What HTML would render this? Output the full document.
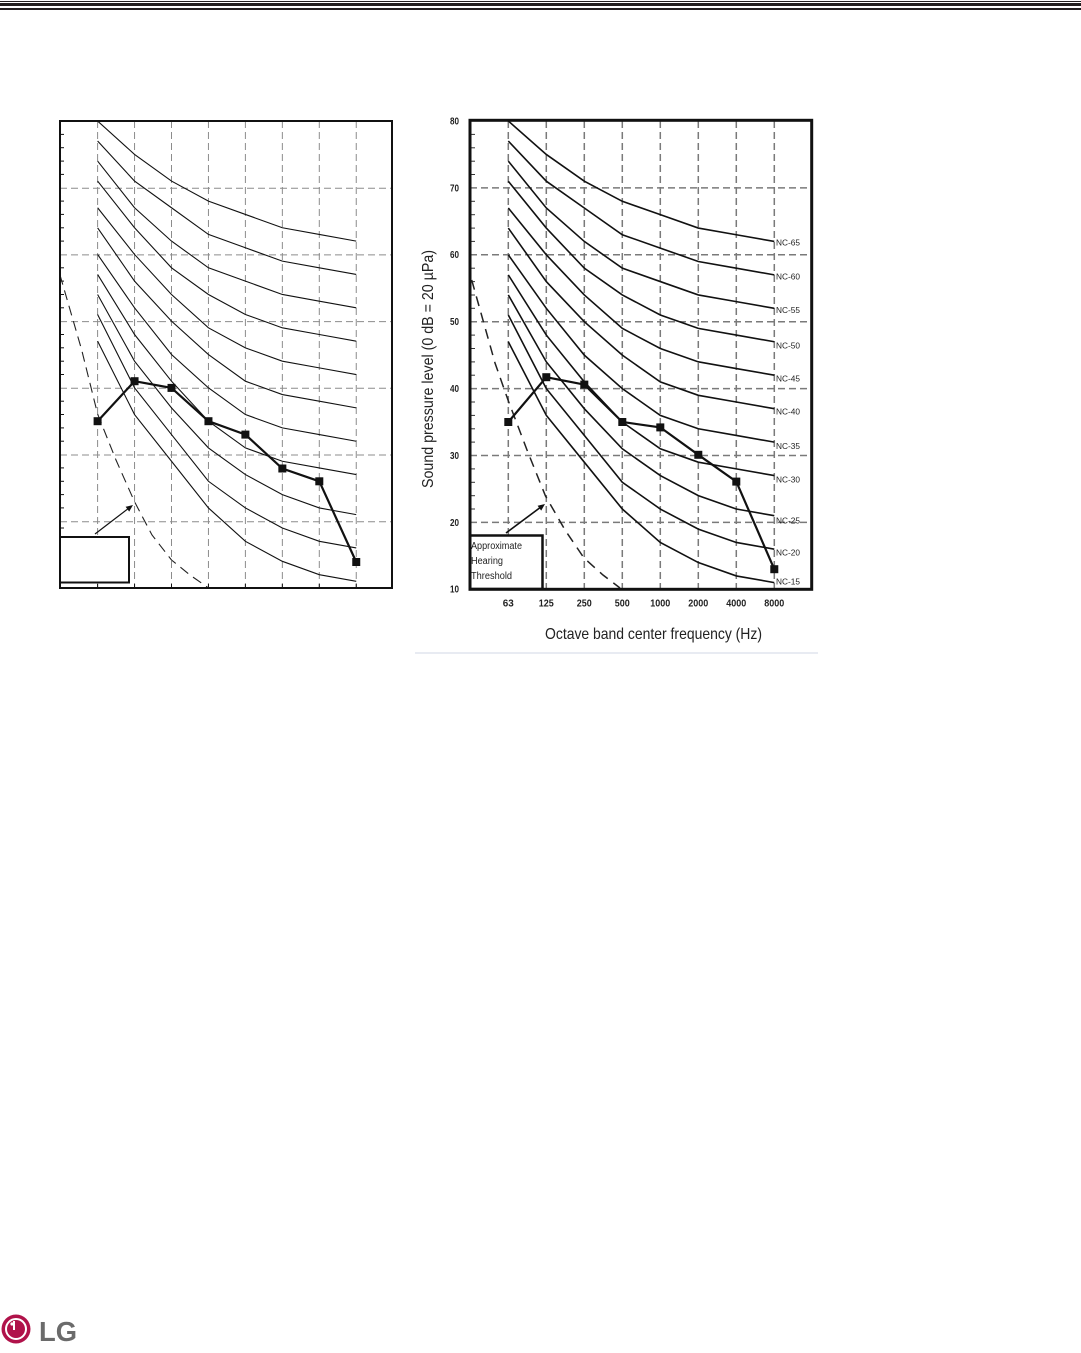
<!DOCTYPE html>
<html>
<head>
<meta charset="utf-8">
<style>
html,body{margin:0;padding:0;background:#fff;}
body{width:1081px;height:1353px;overflow:hidden;}
svg{display:block;font-family:"Liberation Sans",Arial,sans-serif;}
</style>
</head>
<body>
<svg width="1081" height="1353" viewBox="0 0 1081 1353" xmlns="http://www.w3.org/2000/svg">
<rect width="1081" height="1353" fill="#fff"/>

<!-- header rules -->
<rect x="0" y="1" width="1081" height="1" fill="#231f20"/>
<rect x="0" y="3" width="1081" height="3" fill="#231f20"/>
<rect x="0" y="8" width="1081" height="2" fill="#231f20"/>

<!-- ================= LEFT CHART ================= -->
<g stroke="#8c8c8c" stroke-width="1" stroke-dasharray="7 4" fill="none">
  <line x1="97.6" y1="121" x2="97.6" y2="588"/>
  <line x1="134.55" y1="121" x2="134.55" y2="588"/>
  <line x1="171.5" y1="121" x2="171.5" y2="588"/>
  <line x1="208.45" y1="121" x2="208.45" y2="588"/>
  <line x1="245.4" y1="121" x2="245.4" y2="588"/>
  <line x1="282.35" y1="121" x2="282.35" y2="588"/>
  <line x1="319.3" y1="121" x2="319.3" y2="588"/>
  <line x1="356.25" y1="121" x2="356.25" y2="588"/>
  <line x1="60" y1="188.2" x2="392" y2="188.2"/>
  <line x1="60" y1="254.9" x2="392" y2="254.9"/>
  <line x1="60" y1="321.6" x2="392" y2="321.6"/>
  <line x1="60" y1="388.3" x2="392" y2="388.3"/>
  <line x1="60" y1="455.0" x2="392" y2="455.0"/>
  <line x1="60" y1="521.7" x2="392" y2="521.7"/>
</g>

<!-- left minor ticks -->
<g stroke="#111" stroke-width="1">
  <line x1="60" y1="134.4" x2="64" y2="134.4"/>
  <line x1="60" y1="147.7" x2="64" y2="147.7"/>
  <line x1="60" y1="161.1" x2="64" y2="161.1"/>
  <line x1="60" y1="174.4" x2="64" y2="174.4"/>
  <line x1="60" y1="201.1" x2="64" y2="201.1"/>
  <line x1="60" y1="214.4" x2="64" y2="214.4"/>
  <line x1="60" y1="227.8" x2="64" y2="227.8"/>
  <line x1="60" y1="241.1" x2="64" y2="241.1"/>
  <line x1="60" y1="267.8" x2="64" y2="267.8"/>
  <line x1="60" y1="281.1" x2="64" y2="281.1"/>
  <line x1="60" y1="294.5" x2="64" y2="294.5"/>
  <line x1="60" y1="307.8" x2="64" y2="307.8"/>
  <line x1="60" y1="334.5" x2="64" y2="334.5"/>
  <line x1="60" y1="347.8" x2="64" y2="347.8"/>
  <line x1="60" y1="361.2" x2="64" y2="361.2"/>
  <line x1="60" y1="374.5" x2="64" y2="374.5"/>
  <line x1="60" y1="401.2" x2="64" y2="401.2"/>
  <line x1="60" y1="414.5" x2="64" y2="414.5"/>
  <line x1="60" y1="427.9" x2="64" y2="427.9"/>
  <line x1="60" y1="441.2" x2="64" y2="441.2"/>
  <line x1="60" y1="467.9" x2="64" y2="467.9"/>
  <line x1="60" y1="481.3" x2="64" y2="481.3"/>
  <line x1="60" y1="494.6" x2="64" y2="494.6"/>
  <line x1="60" y1="507.9" x2="64" y2="507.9"/>
  <line x1="60" y1="528.0" x2="64" y2="528.0"/>
  <line x1="97.6" y1="588" x2="97.6" y2="584"/>
  <line x1="134.55" y1="588" x2="134.55" y2="584"/>
  <line x1="171.5" y1="588" x2="171.5" y2="584"/>
  <line x1="208.45" y1="588" x2="208.45" y2="584"/>
  <line x1="245.4" y1="588" x2="245.4" y2="584"/>
  <line x1="282.35" y1="588" x2="282.35" y2="584"/>
  <line x1="319.3" y1="588" x2="319.3" y2="584"/>
  <line x1="356.25" y1="588" x2="356.25" y2="584"/>
</g>

<!-- left NC curves -->
<g transform="matrix(36.95 0 0 -6.671 97.6 654.71)" fill="none" stroke="#111" stroke-width="1.1">
  <polyline vector-effect="non-scaling-stroke" points="0,47 1,36 2,29 3,22 4,17 5,14 6,12 7,11"/>
  <polyline vector-effect="non-scaling-stroke" points="0,51 1,40 2,33 3,26 4,22 5,19 6,17 7,16"/>
  <polyline vector-effect="non-scaling-stroke" points="0,54 1,44 2,37 3,31 4,27 5,24 6,22 7,21"/>
  <polyline vector-effect="non-scaling-stroke" points="0,57 1,48 2,41 3,35 4,31 5,29 6,28 7,27"/>
  <polyline vector-effect="non-scaling-stroke" points="0,60 1,52 2,45 3,40 4,36 5,34 6,33 7,32"/>
  <polyline vector-effect="non-scaling-stroke" points="0,64 1,56 2,50 3,45 4,41 5,39 6,38 7,37"/>
  <polyline vector-effect="non-scaling-stroke" points="0,67 1,60 2,54 3,49 4,46 5,44 6,43 7,42"/>
  <polyline vector-effect="non-scaling-stroke" points="0,71 1,64 2,58 3,54 4,51 5,49 6,48 7,47"/>
  <polyline vector-effect="non-scaling-stroke" points="0,74 1,67 2,62 3,58 4,56 5,54 6,53 7,52"/>
  <polyline vector-effect="non-scaling-stroke" points="0,77 1,71 2,67 3,63 4,61 5,59 6,58 7,57"/>
  <polyline vector-effect="non-scaling-stroke" points="0,80 1,75 2,71 3,68 4,66 5,64 6,63 7,62"/>
</g>

<!-- left threshold -->
<polyline points="60,275 81.7,350 97.6,414 116,460 134.5,501.7 152,535 171.5,560 190,575 208.5,588" fill="none" stroke="#222" stroke-width="1.1" stroke-dasharray="10 6"/>

<!-- left arrow -->
<line x1="95" y1="534" x2="129" y2="508" stroke="#111" stroke-width="1.2"/>
<polygon points="133,505 129.2,511.6 125.6,506.8" fill="#111"/>

<!-- left data -->
<polyline points="97.6,421.2 134.55,381.2 171.5,387.9 208.45,421.2 245.4,434.6 282.35,468.5 319.3,481.3 356.25,562" fill="none" stroke="#111" stroke-width="2.2"/>
<g fill="#111">
  <rect x="93.6" y="417.2" width="8" height="8"/>
  <rect x="130.55" y="377.2" width="8" height="8"/>
  <rect x="167.5" y="383.9" width="8" height="8"/>
  <rect x="204.45" y="417.2" width="8" height="8"/>
  <rect x="241.4" y="430.6" width="8" height="8"/>
  <rect x="278.35" y="464.5" width="8" height="8"/>
  <rect x="315.3" y="477.3" width="8" height="8"/>
  <rect x="352.25" y="558" width="8" height="8"/>
</g>

<!-- left box & frame -->
<rect x="60" y="537" width="69" height="45.5" fill="#fff" stroke="#111" stroke-width="2"/>
<rect x="60" y="121" width="332" height="467" fill="none" stroke="#111" stroke-width="2"/>

<!-- ================= RIGHT CHART ================= -->
<g stroke="#7a7a7a" stroke-width="1.5" stroke-dasharray="7 4" fill="none">
  <line x1="508.3" y1="121" x2="508.3" y2="589"/>
  <line x1="546.3" y1="121" x2="546.3" y2="589"/>
  <line x1="584.3" y1="121" x2="584.3" y2="589"/>
  <line x1="622.3" y1="121" x2="622.3" y2="589"/>
  <line x1="660.3" y1="121" x2="660.3" y2="589"/>
  <line x1="698.3" y1="121" x2="698.3" y2="589"/>
  <line x1="736.3" y1="121" x2="736.3" y2="589"/>
  <line x1="774.3" y1="121" x2="774.3" y2="589"/>
  <line x1="470" y1="187.9" x2="811" y2="187.9"/>
  <line x1="470" y1="254.8" x2="811" y2="254.8"/>
  <line x1="470" y1="321.7" x2="811" y2="321.7"/>
  <line x1="470" y1="388.6" x2="811" y2="388.6"/>
  <line x1="470" y1="455.5" x2="811" y2="455.5"/>
  <line x1="470" y1="522.4" x2="811" y2="522.4"/>
</g>

<!-- right minor ticks -->
<g stroke="#333" stroke-width="1">
  <line x1="470" y1="134.4" x2="475" y2="134.4"/>
  <line x1="470" y1="147.8" x2="475" y2="147.8"/>
  <line x1="470" y1="161.2" x2="475" y2="161.2"/>
  <line x1="470" y1="174.5" x2="475" y2="174.5"/>
  <line x1="470" y1="201.3" x2="475" y2="201.3"/>
  <line x1="470" y1="214.7" x2="475" y2="214.7"/>
  <line x1="470" y1="228.1" x2="475" y2="228.1"/>
  <line x1="470" y1="241.4" x2="475" y2="241.4"/>
  <line x1="470" y1="268.2" x2="475" y2="268.2"/>
  <line x1="470" y1="281.6" x2="475" y2="281.6"/>
  <line x1="470" y1="295.0" x2="475" y2="295.0"/>
  <line x1="470" y1="308.3" x2="475" y2="308.3"/>
  <line x1="470" y1="335.1" x2="475" y2="335.1"/>
  <line x1="470" y1="348.5" x2="475" y2="348.5"/>
  <line x1="470" y1="361.9" x2="475" y2="361.9"/>
  <line x1="470" y1="375.2" x2="475" y2="375.2"/>
  <line x1="470" y1="402.0" x2="475" y2="402.0"/>
  <line x1="470" y1="415.4" x2="475" y2="415.4"/>
  <line x1="470" y1="428.8" x2="475" y2="428.8"/>
  <line x1="470" y1="442.1" x2="475" y2="442.1"/>
  <line x1="470" y1="468.9" x2="475" y2="468.9"/>
  <line x1="470" y1="482.3" x2="475" y2="482.3"/>
  <line x1="470" y1="495.7" x2="475" y2="495.7"/>
  <line x1="470" y1="509.0" x2="475" y2="509.0"/>
</g>

<!-- right NC curves -->
<g transform="matrix(38 0 0 -6.69 508.3 656.2)" fill="none" stroke="#111" stroke-width="1.6">
  <polyline vector-effect="non-scaling-stroke" points="0,47 1,36 2,29 3,22 4,17 5,14 6,12 7,11"/>
  <polyline vector-effect="non-scaling-stroke" points="0,51 1,40 2,33 3,26 4,22 5,19 6,17 7,16"/>
  <polyline vector-effect="non-scaling-stroke" points="0,54 1,44 2,37 3,31 4,27 5,24 6,22 7,21"/>
  <polyline vector-effect="non-scaling-stroke" points="0,57 1,48 2,41 3,35 4,31 5,29 6,28 7,27"/>
  <polyline vector-effect="non-scaling-stroke" points="0,60 1,52 2,45 3,40 4,36 5,34 6,33 7,32"/>
  <polyline vector-effect="non-scaling-stroke" points="0,64 1,56 2,50 3,45 4,41 5,39 6,38 7,37"/>
  <polyline vector-effect="non-scaling-stroke" points="0,67 1,60 2,54 3,49 4,46 5,44 6,43 7,42"/>
  <polyline vector-effect="non-scaling-stroke" points="0,71 1,64 2,58 3,54 4,51 5,49 6,48 7,47"/>
  <polyline vector-effect="non-scaling-stroke" points="0,74 1,67 2,62 3,58 4,56 5,54 6,53 7,52"/>
  <polyline vector-effect="non-scaling-stroke" points="0,77 1,71 2,67 3,63 4,61 5,59 6,58 7,57"/>
  <polyline vector-effect="non-scaling-stroke" points="0,80 1,75 2,71 3,68 4,66 5,64 6,63 7,62"/>
</g>

<!-- right threshold -->
<polyline points="471.7,280 495,363 508,400 527,450 545.5,496 565,530 584,558 603,575 620,588" fill="none" stroke="#222" stroke-width="1.5" stroke-dasharray="10 7"/>

<!-- right arrow -->
<line x1="506" y1="533" x2="540.5" y2="507.3" stroke="#111" stroke-width="1.6"/>
<polygon points="545,504 541.2,510.6 537.6,505.8" fill="#111"/>

<!-- right data -->
<polyline points="508.3,422 546.3,377.2 584.3,384.6 622.3,422 660.3,427.4 698.3,454.8 736.3,481.6 774.3,569.2" fill="none" stroke="#111" stroke-width="2.2"/>
<g fill="#111">
  <rect x="504.3" y="418" width="8" height="8"/>
  <rect x="542.3" y="373.2" width="8" height="8"/>
  <rect x="580.3" y="380.6" width="8" height="8"/>
  <rect x="618.3" y="418" width="8" height="8"/>
  <rect x="656.3" y="423.4" width="8" height="8"/>
  <rect x="694.3" y="450.8" width="8" height="8"/>
  <rect x="732.3" y="477.6" width="8" height="8"/>
  <rect x="770.3" y="565.2" width="8" height="8"/>
</g>

<!-- right legend box -->
<rect x="470" y="535.5" width="72.5" height="53.5" fill="#fff" stroke="#111" stroke-width="2.5"/>
<g font-size="10" fill="#222">
  <text x="471" y="549" textLength="51" lengthAdjust="spacingAndGlyphs">Approximate</text>
  <text x="471" y="564" textLength="32" lengthAdjust="spacingAndGlyphs">Hearing</text>
  <text x="471" y="579" textLength="41" lengthAdjust="spacingAndGlyphs">Threshold</text>
</g>

<!-- right frame -->
<rect x="470" y="120.3" width="341.7" height="469" fill="none" stroke="#111" stroke-width="3"/>

<!-- NC labels -->
<g font-size="8.5" fill="#222">
  <text x="776" y="245.7" textLength="24" lengthAdjust="spacingAndGlyphs">NC-65</text>
  <text x="776" y="279.7" textLength="24" lengthAdjust="spacingAndGlyphs">NC-60</text>
  <text x="776" y="313" textLength="24" lengthAdjust="spacingAndGlyphs">NC-55</text>
  <text x="776" y="348.7" textLength="24" lengthAdjust="spacingAndGlyphs">NC-50</text>
  <text x="776" y="381.3" textLength="24" lengthAdjust="spacingAndGlyphs">NC-45</text>
  <text x="776" y="414.7" textLength="24" lengthAdjust="spacingAndGlyphs">NC-40</text>
  <text x="776" y="449" textLength="24" lengthAdjust="spacingAndGlyphs">NC-35</text>
  <text x="776" y="482.3" textLength="24" lengthAdjust="spacingAndGlyphs">NC-30</text>
  <text x="776" y="523.7" textLength="24" lengthAdjust="spacingAndGlyphs">NC-25</text>
  <text x="776" y="555.7" textLength="24" lengthAdjust="spacingAndGlyphs">NC-20</text>
  <text x="776" y="584.7" textLength="24" lengthAdjust="spacingAndGlyphs">NC-15</text>
</g>

<!-- y tick labels -->
<g font-size="10" font-weight="bold" fill="#222" text-anchor="middle">
  <text x="454.5" y="124.5" textLength="9" lengthAdjust="spacingAndGlyphs">80</text>
  <text x="454.5" y="191.3" textLength="9" lengthAdjust="spacingAndGlyphs">70</text>
  <text x="454.5" y="258.2" textLength="9" lengthAdjust="spacingAndGlyphs">60</text>
  <text x="454.5" y="325.1" textLength="9" lengthAdjust="spacingAndGlyphs">50</text>
  <text x="454.5" y="392" textLength="9" lengthAdjust="spacingAndGlyphs">40</text>
  <text x="454.5" y="458.9" textLength="9" lengthAdjust="spacingAndGlyphs">30</text>
  <text x="454.5" y="525.8" textLength="9" lengthAdjust="spacingAndGlyphs">20</text>
  <text x="454.5" y="592.7" textLength="9" lengthAdjust="spacingAndGlyphs">10</text>
</g>

<!-- x tick labels -->
<g font-size="10" font-weight="bold" fill="#222" text-anchor="middle">
  <text x="508.3" y="606.5" textLength="11" lengthAdjust="spacingAndGlyphs">63</text>
  <text x="546.3" y="606.5" textLength="15" lengthAdjust="spacingAndGlyphs">125</text>
  <text x="584.3" y="606.5" textLength="15" lengthAdjust="spacingAndGlyphs">250</text>
  <text x="622.3" y="606.5" textLength="15" lengthAdjust="spacingAndGlyphs">500</text>
  <text x="660.3" y="606.5" textLength="20" lengthAdjust="spacingAndGlyphs">1000</text>
  <text x="698.3" y="606.5" textLength="20" lengthAdjust="spacingAndGlyphs">2000</text>
  <text x="736.3" y="606.5" textLength="20" lengthAdjust="spacingAndGlyphs">4000</text>
  <text x="774.3" y="606.5" textLength="20" lengthAdjust="spacingAndGlyphs">8000</text>
</g>

<!-- axis titles -->
<text x="653.5" y="639" font-size="16" fill="#222" text-anchor="middle" textLength="217" lengthAdjust="spacingAndGlyphs">Octave band center frequency (Hz)</text>
<text transform="translate(433,369) rotate(-90)" x="0" y="0" font-size="16" fill="#222" text-anchor="middle" textLength="238" lengthAdjust="spacingAndGlyphs">Sound pressure level (0 dB = 20 µPa)</text>

<!-- faint separator -->
<line x1="415" y1="653" x2="818" y2="653" stroke="#e8ebf2" stroke-width="2"/>

<!-- LG logo -->
<circle cx="16" cy="1329" r="14.5" fill="#b0124a"/>
<circle cx="16" cy="1329" r="10" fill="none" stroke="#fff" stroke-width="2"/>
<rect x="13" y="1321" width="2" height="10" fill="#fff"/>
<rect x="13" y="1330" width="7" height="2" fill="#b0124a"/>
<circle cx="12" cy="1324" r="1.6" fill="#fff"/>
<text x="39" y="1341" font-size="28" font-weight="bold" fill="#6b6b6b" textLength="38" lengthAdjust="spacingAndGlyphs">LG</text>
</svg>
</body>
</html>
